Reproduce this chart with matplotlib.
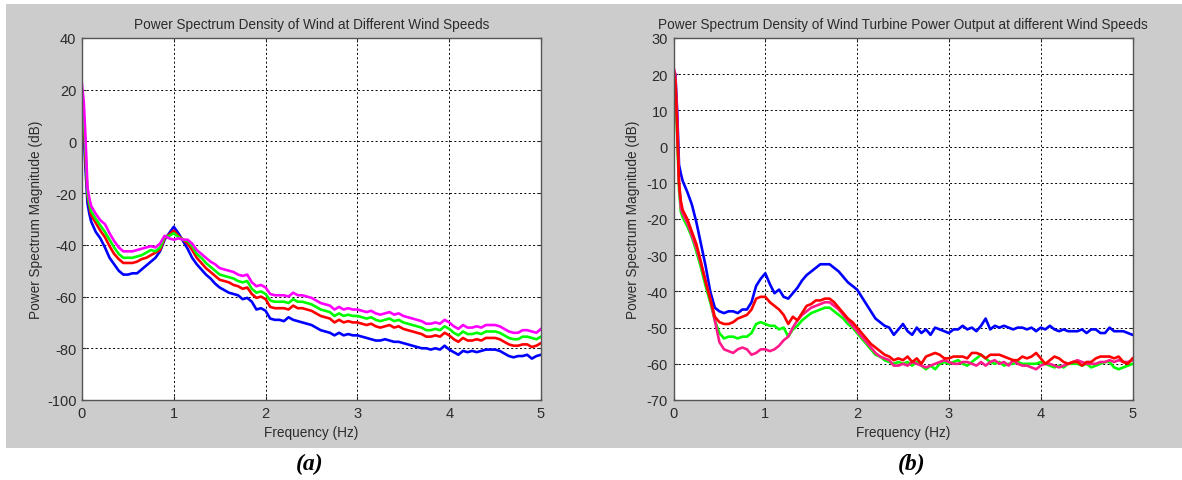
import matplotlib.pyplot as plt
from matplotlib.patches import Rectangle

# frequency bins (Hz), shared by both panels
freq = [0, 0.02, 0.04, 0.06, 0.08, 0.1,
        0.15, 0.2, 0.25, 0.3, 0.35, 0.4, 0.45, 0.5, 0.55, 0.6, 0.65, 0.7, 0.75, 0.8, 0.85, 0.9, 0.95, 1.0,
        1.05, 1.1, 1.15, 1.2, 1.25, 1.3, 1.35, 1.4, 1.45, 1.5, 1.55, 1.6, 1.65, 1.7, 1.75, 1.8, 1.85, 1.9, 1.95, 2.0,
        2.05, 2.1, 2.15, 2.2, 2.25, 2.3, 2.35, 2.4, 2.45, 2.5, 2.55, 2.6, 2.65, 2.7, 2.75, 2.8, 2.85, 2.9, 2.95, 3.0,
        3.05, 3.1, 3.15, 3.2, 3.25, 3.3, 3.35, 3.4, 3.45, 3.5, 3.55, 3.6, 3.65, 3.7, 3.75, 3.8, 3.85, 3.9, 3.95, 4.0,
        4.05, 4.1, 4.15, 4.2, 4.25, 4.3, 4.35, 4.4, 4.45, 4.5, 4.55, 4.6, 4.65, 4.7, 4.75, 4.8, 4.85, 4.9, 4.95, 5.0]

# (a) wind PSD (dB)
wind_blue = [14, 2, -12, -24, -28, -31,
             -35, -37.5, -41, -45, -47.5, -50, -51.5, -51.5, -51, -51, -49.5, -48, -46.5, -45, -42.5, -38, -35.5, -33,
             -35.5, -38.5, -41.5, -45, -47.5, -49.5, -51.5, -53, -55, -56.5, -57.5, -58.5, -59, -59.5, -61, -60.5, -62, -65, -64.5, -65.5,
             -68.5, -69, -69, -69.5, -68, -69, -69.5, -70, -70.5, -71, -72, -73, -73.5, -74, -75, -74, -75, -74.5, -75, -75,
             -75.5, -76, -76.5, -77, -77, -76.5, -77, -77.5, -77.5, -78, -78.5, -79, -79.5, -80, -80, -80.5, -80, -80.5, -79, -80.5,
             -81.5, -82.5, -81, -81.5, -81, -81.5, -81, -80.5, -80.5, -80.5, -81, -82, -83, -83.5, -83, -83, -82.5, -84, -83, -82.5]
wind_red = [19, 8, -8, -21, -25, -28.5,
            -31.5, -34.5, -37, -40.5, -43.5, -45.5, -47, -47, -47, -46.5, -45.5, -45, -44, -43, -42, -37.5, -36, -34.5,
            -36.5, -38, -39.5, -42, -45, -47, -49, -50.5, -52, -53.5, -54, -54.5, -55.5, -56, -57, -56.5, -59, -60.5, -60, -61,
            -64, -64.5, -64.5, -64.5, -65, -63.5, -64.5, -64.5, -65, -65.5, -66.5, -67.5, -68, -68.5, -70, -69, -70, -69.5, -70, -70,
            -70.5, -71, -70.5, -71.5, -72, -71.5, -71, -72, -71.5, -72.5, -73, -73.5, -74, -74.5, -75.5, -75.5, -75, -75.5, -74, -75,
            -76.5, -77.5, -76, -77, -77, -76.5, -77, -76, -76, -76, -76.5, -77.5, -78.5, -79, -79, -78.5, -78.5, -79.5, -79, -78]
wind_green = [18, 10, -5, -20, -24, -27,
              -30, -32.5, -35, -38, -41, -43.5, -45, -45, -45, -44.5, -44, -43, -42, -42.5, -41, -37, -36.5, -35.5,
              -37, -38, -38.5, -40.5, -43.5, -45, -47, -48.5, -50, -51.5, -52, -52.5, -53, -54, -54.5, -54, -57, -58.5, -58, -59,
              -61.5, -62, -62, -62, -62.5, -61, -62, -62, -62.5, -63, -64, -65, -65.5, -66, -67.5, -66.5, -67.5, -67, -67.5, -67.5,
              -68, -68.5, -68, -69, -69.5, -69, -68.5, -69.5, -69, -70, -70.5, -71, -71.5, -72, -73, -73, -72.5, -73, -71.5, -72.5,
              -74, -75, -73.5, -74.5, -74.5, -74, -74.5, -73.5, -73.5, -73.5, -74, -75, -76, -76.5, -76.5, -75.5, -75.5, -76, -76.5, -75.5]
wind_magenta = [22, 15, 0, -18, -22, -25,
                -28, -30.5, -32, -35.5, -38.5, -41, -42.5, -42.5, -42.5, -42, -41.5, -41, -40.5, -41, -39.5, -36.5, -37.5, -38,
                -37.5, -38, -38, -39.5, -42, -43.5, -45, -46.5, -47.5, -49, -49.5, -50, -50.5, -51.5, -52, -51.5, -54.5, -56, -55.5, -56.5,
                -59, -59.5, -59.5, -59.5, -60, -58.5, -59.5, -59.5, -60, -60.5, -61.5, -62.5, -63, -63.5, -65, -64, -65, -64.5, -65, -65,
                -65.5, -66, -65.5, -66.5, -67, -66.5, -66, -67, -66.5, -67.5, -68, -68.5, -69, -69.5, -70.5, -70.5, -70, -70.5, -69, -70,
                -71.5, -72.5, -71, -72, -72, -71.5, -72, -71, -71, -71, -71.5, -72.5, -73.5, -74, -74, -73, -73, -73.5, -74, -72.5]

# (b) turbine power output PSD (dB)
power_blue = [18, 20, 10, -5, -7.5, -9.5,
              -12.5, -16, -21, -27, -33, -40, -44.5, -45.5, -46, -45.5, -45.5, -46, -45, -45, -43, -38.5, -36.5, -35,
              -38, -40.5, -39.5, -41.5, -42, -40.5, -39, -37, -35.5, -34.5, -33.5, -32.5, -32.5, -32.5, -33.5, -34.5, -36, -37.5, -38.5, -39.5,
              -41.5, -43.5, -45.5, -47.5, -48.5, -49.5, -50, -52, -50.5, -49, -51, -52, -50, -51.5, -50.5, -52, -50, -50.5, -51, -51.5,
              -50.5, -50.5, -49.5, -50.5, -50, -51, -49.5, -47.5, -50.5, -49.5, -50, -49.5, -50, -50.5, -50, -50, -50.5, -50, -51, -50,
              -50.5, -49.5, -50.5, -51, -50.5, -51, -51, -51, -50.5, -51.5, -50.5, -50.5, -51.5, -51.5, -50, -51, -51, -51, -51.5, -52]
power_red = [21, 18, 5, -10, -15, -17.5,
             -20, -23.5, -27, -32, -37.5, -42, -47, -48.5, -49, -49, -48.5, -47.5, -47, -46.5, -45, -42, -41.5, -41.5,
             -43, -44, -45, -46.5, -49, -47, -48, -46, -44, -43.5, -42.5, -42.5, -42, -42, -43, -44.5, -46, -47.5, -48.5, -50,
             -51.5, -53, -54.5, -55.5, -56.5, -57.5, -58, -59, -58.5, -59, -58, -59.5, -58.5, -60, -58, -57.5, -57, -57.5, -58.5, -58.5,
             -58, -58, -58, -58.5, -57, -57, -57.5, -58.5, -57.5, -57.5, -57.5, -58, -58.5, -59, -59, -58, -58.5, -58, -57, -58.5,
             -60, -59, -58, -58.5, -59.5, -60, -59.5, -59.5, -60.5, -59.5, -59.5, -58.5, -58, -58, -58, -58.5, -58, -59.5, -60, -58.5]
power_green = [18, 15, 3, -12, -18, -19.5,
               -22, -25, -29, -33.5, -38.5, -43, -48, -51.5, -53, -52.5, -52.5, -53, -52.5, -52.5, -51.5, -49, -48.5, -49,
               -49.5, -49.5, -50.5, -50, -52.5, -50.5, -49.5, -48, -47, -46, -45.5, -45, -44.5, -44.5, -45.5, -46.5, -47.5, -49, -50, -51.5,
               -53, -54.5, -56, -57.5, -58, -59, -59.5, -60, -59.5, -60, -59.5, -60.5, -59.5, -60.5, -61.5, -60.5, -61.5, -60, -59.5, -60,
               -59.5, -59, -60, -60.5, -59.5, -58.5, -57.5, -58.5, -59.5, -60, -59.5, -60.5, -60, -60, -59.5, -60, -60, -60, -60, -59.5,
               -60, -60.5, -61, -60.5, -61, -60, -60, -60, -60.5, -60, -61, -60.5, -60, -59.5, -59.5, -61, -61.5, -61, -60.5, -60]
power_pink = [22, 20, 8, -10, -17, -18.5,
              -21, -24.5, -28, -32.5, -37, -42, -48, -54, -56, -56.5, -57, -56, -55.5, -56, -57.5, -57, -56, -56,
              -56.5, -56, -55, -53.5, -52.5, -50, -48, -46.5, -45.5, -44.5, -44, -43.5, -43, -43, -44, -45, -46.5, -48, -49.5, -51,
              -52.5, -54, -55.5, -57, -58, -58.5, -59, -60.5, -60.5, -60, -60.5, -59.5, -60, -60.5, -61, -60.5, -60, -59.5, -59, -59.5,
              -60, -60, -59.5, -59.5, -60, -60.5, -59.5, -60.5, -59.5, -59, -60, -59.5, -60.5, -59, -60, -60.5, -60.5, -61, -61.5, -60.5,
              -60, -60, -60.5, -61, -60.5, -60, -59.5, -59, -59.5, -60, -60, -60, -59.5, -59.5, -59, -59.5, -59, -59.5, -59.5, -59]

title_a = "Power Spectrum Density of Wind at Different Wind Speeds"
title_b = "Power Spectrum Density of Wind Turbine Power Output at different Wind Speeds"
yticks_a = [40, 20, 0, -20, -40, -60, -80, -100]
yticks_b = [30, 20, 10, 0, -10, -20, -30, -40, -50, -60, -70]
xticks = [0, 1, 2, 3, 4, 5]

plt.rcParams["font.family"] = ["Liberation Sans", "DejaVu Sans"]
plt.rcParams["axes.unicode_minus"] = False

fig = plt.figure(figsize=(11.82, 4.81), dpi=100)
fig.patch.set_facecolor("white")
# grey MATLAB-style figure background behind both panels
fig.patches.append(Rectangle((6 / 1182, 1 - 449 / 481), 1 - 6 / 1182, 444 / 481,
                             transform=fig.transFigure, facecolor="#cccccc",
                             edgecolor="none", zorder=-10))

ax_a = fig.add_axes([82 / 1182, 1 - 401 / 481, 459 / 1182, 362 / 481])
ax_b = fig.add_axes([673.5 / 1182, 1 - 401 / 481, 459 / 1182, 362 / 481])

lw = 1.9
ax_a.plot(freq, wind_blue, color="#0000ff", lw=lw)
ax_a.plot(freq, wind_red, color="#ff0000", lw=lw)
ax_a.plot(freq, wind_green, color="#00ff00", lw=lw)
ax_a.plot(freq, wind_magenta, color="#ff00ff", lw=lw)

ax_b.plot(freq, power_blue, color="#0000ff", lw=lw)
ax_b.plot(freq, power_green, color="#00ff00", lw=lw)
ax_b.plot(freq, power_pink, color="#ff1a8c", lw=lw)
ax_b.plot(freq, power_red, color="#ff0000", lw=lw)

txt = "#2b2b2b"
for ax, title, yt in [(ax_a, title_a, yticks_a), (ax_b, title_b, yticks_b)]:
    ax.set_facecolor("white")
    ax.set_xlim(0, 5)
    ax.set_ylim(min(yt), max(yt))
    ax.set_xticks(xticks)
    ax.set_yticks(yt)
    ax.grid(True, color="black", linestyle=(0, (2, 2.5)), linewidth=0.7)
    ax.tick_params(direction="in", length=3, labelsize=10.5, colors=txt,
                   top=True, right=True, pad=4)
    for sp in ax.spines.values():
        sp.set_color("#555555")
        sp.set_linewidth(1.0)
    ax.set_title(title, fontsize=9.8, color=txt, pad=7)
    ax.set_xlabel("Frequency (Hz)", fontsize=9.8, color=txt)
    ax.set_ylabel("Power Spectrum Magnitude (dB)", fontsize=9.8, color=txt)
    ax.xaxis.set_label_coords(0.5, -25 / 362, transform=ax.transAxes)

ax_a.yaxis.set_label_coords(-39 / 459, 0.5)
ax_b.yaxis.set_label_coords(-33 / 459, 0.5)

fig.text(310 / 1182, 1 - 464 / 481, "(a)", fontsize=17, fontweight="bold",
         fontstyle="italic", family="Liberation Serif", ha="center", va="center")
fig.text(912 / 1182, 1 - 464 / 481, "(b)", fontsize=17, fontweight="bold",
         fontstyle="italic", family="Liberation Serif", ha="center", va="center")

fig.savefig("out.png", dpi=100)
